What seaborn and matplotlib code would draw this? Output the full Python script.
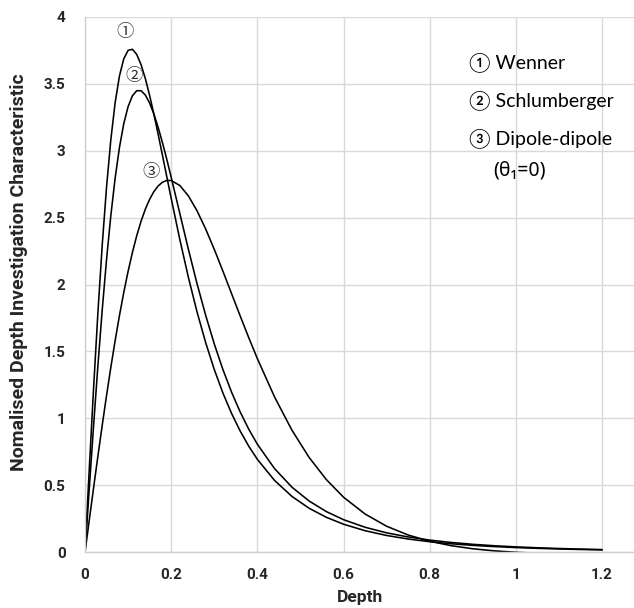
import matplotlib
matplotlib.use("Agg")
import matplotlib.pyplot as plt
import pandas as pd
import seaborn as sns

# Depth (normalised by array length)
depth = [0.00, 0.01, 0.02, 0.03, 0.04, 0.05, 0.06, 0.07, 0.08, 0.09,
         0.10, 0.11, 0.12, 0.13, 0.14, 0.15, 0.16, 0.17, 0.18, 0.19,
         0.20, 0.22, 0.24, 0.26, 0.28, 0.30, 0.32, 0.34, 0.36, 0.38,
         0.40, 0.44, 0.48, 0.52, 0.56, 0.60, 0.65, 0.70, 0.75, 0.80,
         0.85, 0.90, 0.95, 1.00, 1.05, 1.10, 1.15, 1.20]

wenner = [0.0, 0.6262, 1.2304, 1.7924, 2.2956, 2.7282, 3.0835, 3.3595, 3.5585, 3.6858,
          3.7488, 3.7566, 3.7184, 3.6425, 3.5381, 3.4114, 3.2698, 3.1181, 2.9608, 2.8019,
          2.6434, 2.3367, 2.0522, 1.7951, 1.5662, 1.3652, 1.1898, 1.0380, 0.9062, 0.7924,
          0.6941, 0.5363, 0.4180, 0.3290, 0.2614, 0.2097, 0.1613, 0.1256, 0.0991, 0.0790,
          0.0637, 0.0518, 0.0426, 0.0353, 0.0295, 0.0248, 0.0210, 0.0179]

schlumberger = [0.0, 0.4805, 0.9495, 1.3963, 1.8114, 2.1867, 2.5162, 2.7961, 3.0244, 3.2014,
                3.3286, 3.4092, 3.4472, 3.4475, 3.4150, 3.3548, 3.2719, 3.1710, 3.0564, 2.9320,
                2.8010, 2.5308, 2.2620, 2.0062, 1.7701, 1.5561, 1.3652, 1.1967, 1.0487, 0.9194,
                0.8069, 0.6245, 0.4870, 0.3831, 0.3041, 0.2436, 0.1869, 0.1453, 0.1144, 0.0912,
                0.0734, 0.0596, 0.0489, 0.0405, 0.0338, 0.0283, 0.0240, 0.0204]

dipole_dipole = [0.0, 0.2427, 0.4833, 0.7196, 0.9495, 1.1710, 1.3825, 1.5823, 1.7689, 1.9411,
                 2.0981, 2.2391, 2.3636, 2.4713, 2.5623, 2.6365, 2.6946, 2.7369, 2.7642, 2.7771,
                 2.7766, 2.7397, 2.6614, 2.5504, 2.4149, 2.2624, 2.1000, 1.9329, 1.7661, 1.6029,
                 1.4462, 1.1594, 0.9131, 0.7088, 0.5432, 0.4114, 0.2859, 0.1945, 0.1290, 0.0823,
                 0.0494, 0.0264, 0.0107, 0.0, -0.0071, -0.0116, -0.0145, -0.0160]

series_names = ["Wenner", "Schlumberger", "Dipole-dipole"]
marks = ["\u2460", "\u2461", "\u2462"]
x_ticks = [0, 0.2, 0.4, 0.6, 0.8, 1.0, 1.2]
x_tick_labels = ["0", "0.2", "0.4", "0.6", "0.8", "1", "1.2"]
y_ticks = [0, 0.5, 1, 1.5, 2, 2.5, 3, 3.5, 4]
y_tick_labels = ["0", "0.5", "1", "1.5", "2", "2.5", "3", "3.5", "4"]

df = pd.DataFrame({
    "Depth": depth * 3,
    "Value": wenner + schlumberger + dipole_dipole,
    "Array": [n for n in series_names for _ in depth],
})

sns.set_theme(style="white")
plt.rcParams["font.family"] = ["Roboto", "Noto Sans CJK JP", "DejaVu Sans"]

fig = plt.figure(figsize=(6.34, 6.08), dpi=100)
ax = fig.add_axes([85 / 634, 55.7 / 608, 549 / 634, 535.6 / 608])

sns.lineplot(data=df, x="Depth", y="Value", hue="Array", units="Array",
             estimator=None, sort=False, palette=["black"] * 3,
             linewidth=1.15, legend=False, ax=ax)

ax.set_xlim(0, 1.274)
ax.set_ylim(0, 4)
ax.set_xticks(x_ticks)
ax.set_xticklabels(x_tick_labels, fontsize=11, fontweight="bold")
ax.set_yticks(y_ticks)
ax.set_yticklabels(y_tick_labels, fontsize=11, fontweight="bold")
ax.tick_params(axis="x", length=0, pad=11)
ax.tick_params(axis="y", length=0, pad=14)
ax.grid(True, color="#d9d9d9", linewidth=1.0)
ax.set_axisbelow(True)
for side in ["top", "right"]:
    ax.spines[side].set_visible(False)
for side in ["left", "bottom"]:
    ax.spines[side].set_color("#d0d0d0")
    ax.spines[side].set_linewidth(1.0)

ax.set_xlabel("Depth", fontsize=12.5, fontweight="bold", labelpad=6)
ax.set_ylabel("Nomalised Depth Investigation Characteristic",
              fontsize=14, fontweight="bold")
ax.yaxis.set_label_coords(-0.104, 0.523)

# circled markers next to each peak
mark_pos = [(0.0928, 3.884), (0.1137, 3.557), (0.1524, 2.842)]
for m, (mx, my) in zip(marks, mark_pos):
    ax.text(mx, my, m, fontsize=12.5, color="#333333", ha="center", va="center",
            family=["Noto Sans CJK JP", "DejaVu Sans"])

# key text at the upper right
key_rows = [3.664, 3.380, 3.094]
for m, name, ky in zip(marks, series_names, key_rows):
    ax.text(0.891, ky, m + " " + name, fontsize=14, color="black",
            ha="left", va="center",
            family=["Lato", "Noto Sans CJK JP", "DejaVu Sans"])
ax.text(0.947, 2.855, "(\u03b8\u2081=0)", fontsize=14, color="black",
        ha="left", va="center", family=["Noto Sans", "DejaVu Sans"])

fig.savefig("out.png", dpi=100)
